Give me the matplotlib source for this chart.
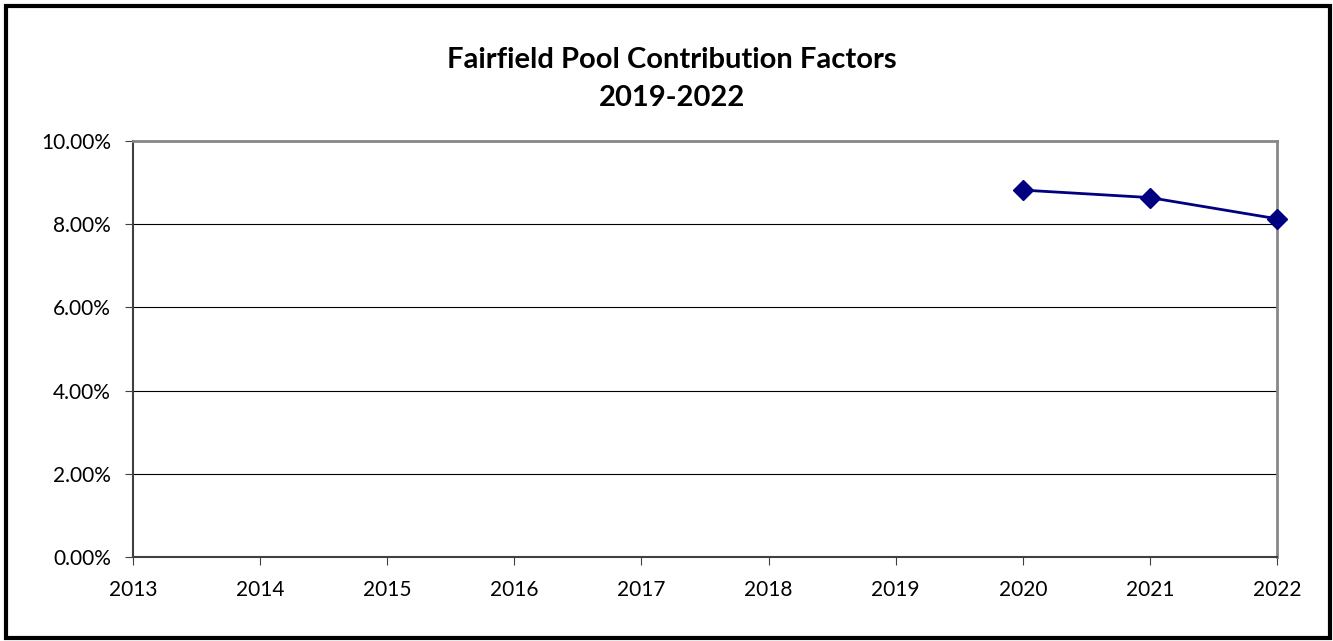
import matplotlib.pyplot as plt
import matplotlib.ticker as mticker
from matplotlib.patches import Rectangle

plt.rcParams['font.family'] = ['Lato', 'DejaVu Sans']

# данные графика
years = [2020, 2021, 2022]
factors = [0.0882, 0.0864, 0.0813]
x_ticks = list(range(2013, 2023))
y_ticks = [0.0, 0.02, 0.04, 0.06, 0.08, 0.10]

fig = plt.figure(figsize=(13.33, 6.41), dpi=100)
ax = fig.add_axes([133/1333, 1 - 557/641, (1277-133)/1333, (557-141)/641])

# рамка вокруг всего рисунка
fig.patches.append(Rectangle((6/1333, 3/641), 1324/1333, 632/641, transform=fig.transFigure,
                             fill=False, edgecolor='black', linewidth=3))

ax.plot(years, factors, color='#000080', linewidth=2, marker='D', markersize=10,
        clip_on=False, zorder=5)

ax.set_xlim(2013, 2022)
ax.set_ylim(0, 0.10)
ax.set_xticks(x_ticks)
ax.set_yticks(y_ticks)
ax.yaxis.set_major_formatter(mticker.FuncFormatter(lambda v, p: f'{v*100:.2f}%'))
ax.grid(axis='y', color='black', linewidth=0.8)
ax.set_axisbelow(True)
ax.tick_params(axis='both', labelsize=15, length=6, color='#404040')
ax.tick_params(axis='x', pad=10.5)
ax.tick_params(axis='y', pad=10)

for side in ['top', 'right']:
    ax.spines[side].set_color('#888888')
    ax.spines[side].set_linewidth(2)
for side in ['left', 'bottom']:
    ax.spines[side].set_color('#404040')
    ax.spines[side].set_linewidth(1.5)

fig.text(672/1333, 1 - 79/641, 'Fairfield Pool Contribution Factors\n2019-2022',
         ha='center', va='center', fontsize=21, fontweight='bold', linespacing=1.6)

fig.savefig('out.png', dpi=100)
